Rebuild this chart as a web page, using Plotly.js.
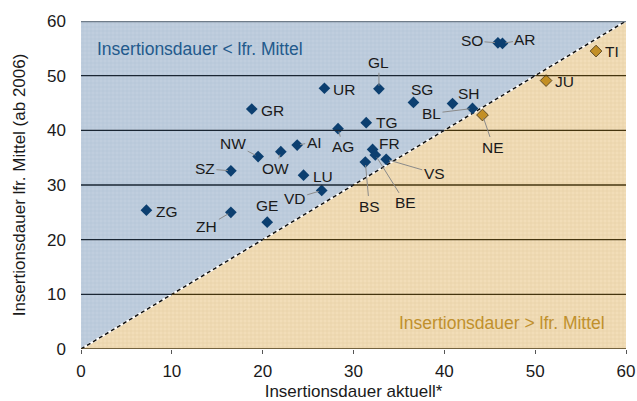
<!DOCTYPE html>
<html><head><meta charset="utf-8">
<script src="https://cdn.plot.ly/plotly-3.0.1.min.js"></script>
<style>html,body{margin:0;padding:0;background:#fff;}#chart{width:637px;height:401px;}</style>
</head><body><div id="chart"></div>
<script>
// Data
const belowCantons = ["ZG","ZH","GE","VD","LU","SZ","NW","OW","AI","AG","TG","FR","BE","BS","VS","GR","UR","GL","SG","SH","BL","SO","AR"];
const belowX = [7.2,16.5,20.5,26.5,24.5,16.5,19.5,22.0,23.8,28.3,31.4,32.1,32.4,31.3,33.6,18.8,26.8,32.8,36.6,40.9,43.1,45.9,46.4];
const belowY = [25.4,25.0,23.2,29.0,31.8,32.6,35.2,36.1,37.3,40.3,41.4,36.5,35.5,34.2,34.7,43.9,47.7,47.6,45.1,44.9,44.0,56.0,55.9];
const aboveCantons = ["NE","JU","TI"];
const aboveX = [44.2,51.2,56.7];
const aboveY = [42.8,49.1,54.5];
// label offsets (pixels) and whether a leader line is drawn
const labelDX = {ZG:21,ZH:-24,GE:0,VD:-27,LU:19,SZ:-26,NW:-25,OW:-5,AI:17,AG:5,TG:21,FR:17,BE:30,BS:4,VS:48,GR:21,UR:20,GL:0,SG:9,SH:16,BL:-41,SO:-26,AR:23,NE:11,JU:18,TI:16};
const labelDY = {ZG:1,ZH:14,GE:-17,VD:8,LU:1,SZ:-2,NW:-13,OW:17,AI:-3,AG:18,TG:0,FR:-6,BE:48,BS:44,VS:14,GR:1,UR:1,GL:-26,SG:-13,SH:-10,BL:5,SO:-2,AR:-4,NE:32,JU:1,TI:0};
const leader = ["ZH","VD","SZ","NW","OW","AI","AG","BS","BE","VS","GL","BL","NE","SO","AR"];
const axisRange = [0,60];
const tickVals = [0,10,20,30,40,50,60];
const gridVals = [10,20,30,40,50];
const textBelow = "Insertionsdauer < lfr. Mittel";
const textAbove = "Insertionsdauer > lfr. Mittel";

const lo = axisRange[0], hi = axisRange[1];
const font = "Liberation Sans, Arial, Helvetica, sans-serif";

const traces = [
  {x:[lo,lo,hi,lo], y:[lo,hi,hi,lo], mode:'lines', fill:'toself', line:{width:0},
   fillcolor:'#bfcddd', fillpattern:{shape:'+', bgcolor:'#c0cede', fgcolor:'#afc1d5', size:4, solidity:0.25},
   hoverinfo:'skip', showlegend:false},
  {x:[lo,hi,hi,lo], y:[lo,lo,hi,lo], mode:'lines', fill:'toself', line:{width:0},
   fillcolor:'#f1dcb6', fillpattern:{shape:'+', bgcolor:'#f2ddb8', fgcolor:'#e5cca0', size:4, solidity:0.25},
   hoverinfo:'skip', showlegend:false},
  {x:[lo,hi], y:[lo,hi], mode:'lines', line:{color:'#ffffff', width:2}, hoverinfo:'skip', showlegend:false},
  {x:[lo,hi], y:[lo,hi], mode:'lines', line:{color:'#111111', width:1.5, dash:'4px,3px'}, hoverinfo:'skip', showlegend:false},
  {x:belowX, y:belowY, mode:'markers', marker:{symbol:'diamond', size:9, color:'#0c3f70', line:{width:0}}, showlegend:false, cliponaxis:false},
  {x:aboveX, y:aboveY, mode:'markers', marker:{symbol:'diamond', size:9, color:'#c38f25', line:{width:1, color:'#5e4a25'}}, showlegend:false, cliponaxis:false}
];

const shapes = [];
gridVals.forEach(v => {
  shapes.push({type:'line', xref:'x', yref:'y', x0:lo, x1:v, y0:v, y1:v, line:{color:'#1a2633', width:1.3}, layer:'above'});
  shapes.push({type:'line', xref:'x', yref:'y', x0:v, x1:hi, y0:v, y1:v, line:{color:'#45350f', width:1.3}, layer:'above'});
});
shapes.push({type:'line', xref:'x', yref:'y', x0:lo, x1:hi, y0:hi, y1:hi, line:{color:'#6f7c89', width:2.5}, layer:'above'});
shapes.push({type:'line', xref:'x', yref:'y', x0:lo, x1:hi, y0:lo, y1:lo, line:{color:'#4a3a18', width:1.5}, layer:'above'});

const annotations = [];
function addLabels(names, xs, ys, color) {
  names.forEach((n, i) => {
    const hasLine = leader.indexOf(n) >= 0;
    annotations.push({x:xs[i], y:ys[i], xref:'x', yref:'y', text:n, showarrow:true,
      ax:labelDX[n], ay:labelDY[n], arrowhead:0, arrowwidth:1,
      arrowcolor: hasLine ? '#8a8a8a' : 'rgba(0,0,0,0)', standoff:3,
      font:{family:font, size:15.5, color:color}});
  });
}
addLabels(belowCantons, belowX, belowY, '#1a1a1a');
addLabels(aboveCantons, aboveX, aboveY, '#1a1a1a');
annotations.push({xref:'paper', yref:'paper', x:0.026, y:0.915, xanchor:'left', yanchor:'middle', text:textBelow, showarrow:false, font:{family:font, size:17.5, color:'#235a8c'}});
annotations.push({xref:'paper', yref:'paper', x:0.966, y:0.08, xanchor:'right', yanchor:'middle', text:textAbove, showarrow:false, font:{family:font, size:17.5, color:'#c0902c'}});

const layout = {
  width:637, height:401,
  margin:{l:81, r:11, t:21, b:52},
  paper_bgcolor:'#ffffff', plot_bgcolor:'#ffffff',
  font:{family:font, size:17, color:'#1a1a1a'},
  showlegend:false,
  xaxis:{range:axisRange, tickvals:tickVals, showgrid:false, zeroline:false, showline:false,
    ticks:'outside', ticklen:4, tickcolor:'#555', tickfont:{size:17}, ticklabelstandoff:3,
    title:{text:'Insertionsdauer aktuell*', font:{size:17}, standoff:4}, fixedrange:true},
  yaxis:{range:axisRange, tickvals:tickVals, showgrid:false, zeroline:false, showline:false,
    ticks:'', tickfont:{size:17}, ticklabelstandoff:14,
    title:{text:'Insertionsdauer lfr. Mittel (ab 2006)', font:{size:17}, standoff:17}, fixedrange:true},
  shapes:shapes, annotations:annotations
};
Plotly.newPlot('chart', traces, layout, {staticPlot:true});
</script></body></html>
